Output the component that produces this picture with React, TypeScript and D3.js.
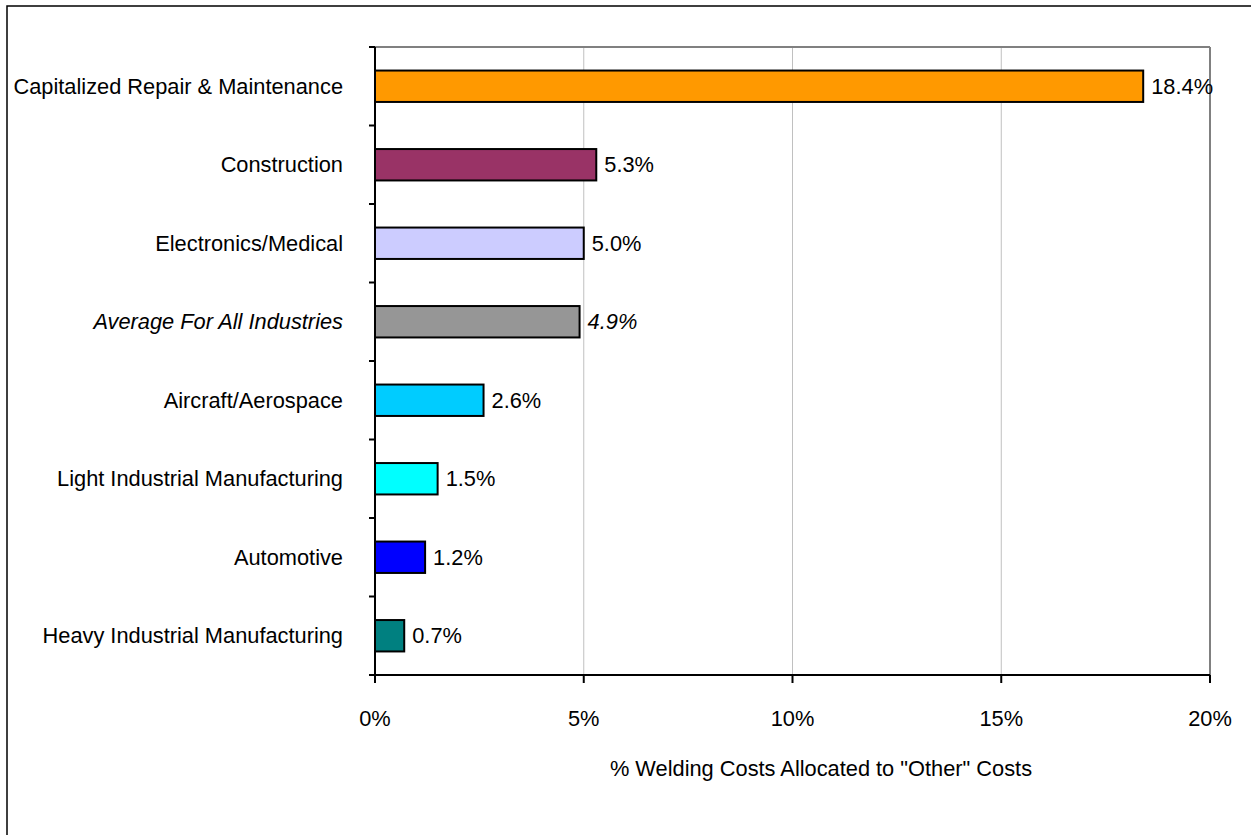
import React from "react";
import * as d3 from "d3";

const categories = [
  "Capitalized Repair & Maintenance",
  "Construction",
  "Electronics/Medical",
  "Average For All Industries",
  "Aircraft/Aerospace",
  "Light Industrial Manufacturing",
  "Automotive",
  "Heavy Industrial Manufacturing",
];
const values = [18.4, 5.3, 5.0, 4.9, 2.6, 1.5, 1.2, 0.7];
const colors = ["#FF9900", "#993366", "#CCCCFF", "#969696", "#00CCFF", "#00FFFF", "#0000FF", "#008080"];
const italicCategory = "Average For All Industries";
const xTicks = [0, 5, 10, 15, 20];
const xTitle = '% Welding Costs Allocated to "Other" Costs';

export default function App() {
  const W = 1251, H = 835;
  const left = 375, right = 1210, top = 47, bottom = 675;
  const x = d3.scaleLinear().domain([0, 20]).range([left, right]);
  const y = d3.scaleBand<string>().domain(categories).range([top, bottom]).paddingInner(0.6).paddingOuter(0.3);
  const yb = d3.scaleBand<string>().domain(categories).range([top, bottom]);
  const font = "Liberation Sans, Arial, sans-serif";
  const fs = 21.8;
  return (
    <svg width={W} height={H} style={{ position: "absolute", left: 0, top: 0, background: "#fff" }} fontFamily={font}>
      <rect x={7} y={6} width={1300} height={900} fill="#fff" stroke="#000" strokeWidth={1.5} />
      {xTicks.slice(1, -1).map((t) => (
        <line key={t} x1={x(t)} x2={x(t)} y1={top} y2={bottom} stroke="#c0c0c0" strokeWidth={1} />
      ))}
      <line x1={left} x2={right} y1={top} y2={top} stroke="#808080" strokeWidth={2} />
      <line x1={right} x2={right} y1={top} y2={bottom} stroke="#808080" strokeWidth={2} />
      {categories.map((c, i) => {
        const by = y(c)!;
        const bh = y.bandwidth();
        const it = c === italicCategory;
        return (
          <g key={c}>
            <rect x={x(0)} y={by} width={x(values[i]) - x(0)} height={bh} fill={colors[i]} stroke="#000" strokeWidth={2} />
            <text x={x(values[i]) + 8} y={by + bh / 2} dy="0.35em" fontSize={fs} fontStyle={it ? "italic" : "normal"} fill="#000">
              {values[i].toFixed(1)}%
            </text>
            <text x={343} y={yb(c)! + yb.bandwidth() / 2} dy="0.35em" textAnchor="end" fontSize={fs} fontStyle={it ? "italic" : "normal"} fill="#000">
              {c}
            </text>
          </g>
        );
      })}
      {/* y axis */}
      <line x1={left} x2={left} y1={top} y2={bottom + 8} stroke="#000" strokeWidth={2} />
      {categories.map((c) => (
        <line key={c} x1={left - 6} x2={left} y1={yb(c)!} y2={yb(c)!} stroke="#000" strokeWidth={2} />
      ))}
      {/* x axis */}
      <line x1={left - 6} x2={right} y1={bottom} y2={bottom} stroke="#000" strokeWidth={2} />
      {xTicks.map((t) => (
        <g key={t}>
          <line x1={x(t)} x2={x(t)} y1={bottom} y2={bottom + 8} stroke="#000" strokeWidth={2} />
          <text x={x(t)} y={718} dy="0.35em" textAnchor="middle" fontSize={fs} fill="#000">{t}%</text>
        </g>
      ))}
      <text x={821} y={768} dy="0.35em" textAnchor="middle" fontSize={fs} fill="#000">{xTitle}</text>
    </svg>
  );
}
